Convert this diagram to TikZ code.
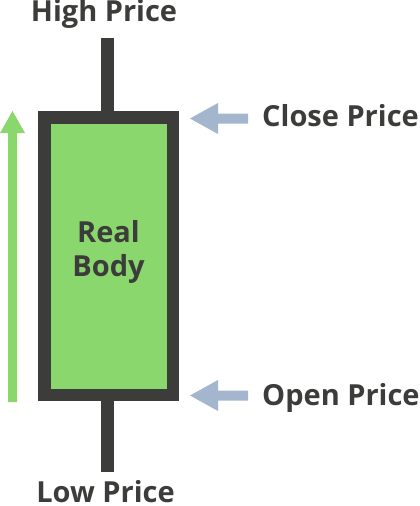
\documentclass[tikz,border=0pt]{standalone}
\usepackage{fontspec}
\setmainfont{Open Sans}
\definecolor{candle}{HTML}{3C3C3B}
\definecolor{bodygreen}{HTML}{8AD76E}
\definecolor{arrowblue}{HTML}{A3B6CE}
\definecolor{upgreen}{HTML}{8AD76E}
\begin{document}
\begin{tikzpicture}[x=1pt,y=-1pt,
  lbl/.style={text=candle,font=\fontsize{29}{33}\selectfont\bfseries,inner sep=0pt},
  blue arrow/.style={fill=arrowblue,draw=none}]
\useasboundingbox (0,0) rectangle (420,506);
% wicks
\fill[candle] (101,38) rectangle (114,112);
\fill[candle] (101,400) rectangle (114,472);
% body
\draw[candle,line width=12.5pt,fill=bodygreen] (44.25,117.25) rectangle (172.75,395);
% green up arrow
\fill[upgreen] (8,402) -- (8,133) -- (0,133) -- (12.5,111) -- (25,133) -- (17,133) -- (17,402) -- cycle;
% blue arrows
\fill[arrowblue] (190,118.5) -- (218,103) -- (218,113.5) -- (248,113.5) -- (248,123.5) -- (218,123.5) -- (218,134) -- cycle;
\fill[arrowblue] (190,395.5) -- (218,380) -- (218,390.5) -- (248,390.5) -- (248,400.5) -- (218,400.5) -- (218,411) -- cycle;
% labels
\node[lbl,anchor=base] (high) at (104,21) {High Price};
\node[lbl,anchor=base,text depth=0pt] (low) at (105.5,502) {Low Price};
\node[lbl,anchor=base west] (close) at (262,126) {Close Price};
\node[lbl,anchor=base west] (open) at (262,405.5) {Open Price};
\node[lbl,anchor=base,align=center] (real) at (108.5,242.5) {Real};
\node[lbl,anchor=base,align=center] (body) at (108.5,276) {Body};
\end{tikzpicture}
\end{document}
